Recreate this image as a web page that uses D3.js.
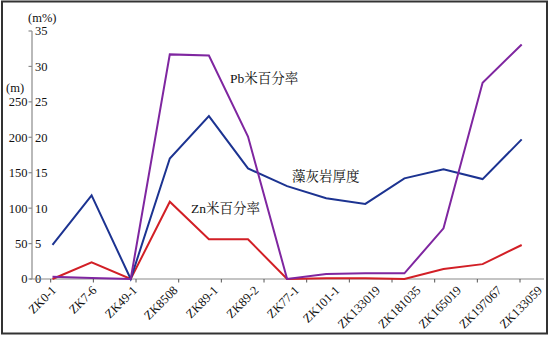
<!DOCTYPE html>
<html>
<head>
<meta charset="utf-8">
<script src="https://cdn.jsdelivr.net/npm/d3@7"></script>
<style>
  body { margin: 0; background: #fff; }
  svg { display: block; }
  text { fill: #111; }
</style>
</head>
<body>
<svg id="chart" width="552" height="343"></svg>
<script>
// drill holes
const holes = ["ZK0-1", "ZK7-6", "ZK49-1", "ZK8508", "ZK89-1", "ZK89-2", "ZK77-1",
  "ZK101-1", "ZK133019", "ZK181035", "ZK165019", "ZK197067", "ZK133059"];

// 藻灰岩厚度 (m)
const thickness = [48, 118, 0, 170, 230, 156, 131, 114, 106, 142, 155, 141, 197];
// Pb米百分率 (m%)
const pbRate = [0.3, 0.15, 0, 31.7, 31.55, 20.1, 0, 0.7, 0.8, 0.8, 7.15, 27.7, 33.1];
// Zn米百分率 (m%)
const znRate = [0, 2.35, 0, 10.9, 5.6, 5.6, 0, 0.1, 0.1, 0, 1.4, 2.1, 4.8];

const mTicks = [0, 50, 100, 150, 200, 250];
const pctTicks = [0, 5, 10, 15, 20, 25, 30, 35];

const svg = d3.select("#chart");
const serif = "Times New Roman, Times, Liberation Serif, Nimbus Roman, Noto Serif, FreeSerif, DejaVu Serif, serif";
const cjk = "Times New Roman, Times, Liberation Serif, Noto Serif CJK SC, Noto Sans CJK SC, serif";
const fs = 12.5;

// frame
svg.append("rect")
  .attr("x", 2).attr("y", 1.5)
  .attr("width", 545).attr("height", 332)
  .attr("fill", "none")
  .attr("stroke", "#333")
  .attr("stroke-width", 2);

const x = d3.scalePoint().domain(holes).range([52.5, 521.7]);
// labels and ticks sit a little off the data points in the original
const xLabel = d3.scalePoint().domain(holes).range([57, 543]);
const xTick = d3.scalePoint().domain(holes.slice(0, 12)).range([50.7, 520]);

const yPct = d3.scaleLinear().domain([0, 35]).range([279, 31]);
const yM = d3.scaleLinear().domain([0, 350]).range([279, 31]);

const axisColor = "#8a8a8a";

// y axis
const yAxis = svg.append("g");
yAxis.append("line")
  .attr("x1", 32).attr("x2", 32)
  .attr("y1", yPct(35)).attr("y2", yPct(0))
  .attr("stroke", axisColor).attr("stroke-width", 1.2);

yAxis.selectAll(".pt").data(pctTicks).enter().append("line")
  .attr("x1", 28.5).attr("x2", 32)
  .attr("y1", d => yPct(d)).attr("y2", d => yPct(d))
  .attr("stroke", axisColor).attr("stroke-width", 1.2);

yAxis.selectAll(".pl").data(pctTicks).enter().append("text")
  .attr("x", 35).attr("y", d => yPct(d))
  .attr("dy", "0.35em")
  .attr("font-family", serif)
  .attr("font-size", fs)
  .text(d => d);

yAxis.selectAll(".ml").data(mTicks).enter().append("text")
  .attr("x", 27.5).attr("y", d => yM(d))
  .attr("dy", "0.35em")
  .attr("text-anchor", "end")
  .attr("font-family", serif)
  .attr("font-size", fs)
  .text(d => d);

svg.append("text").attr("x", 28).attr("y", 22)
  .attr("font-family", serif).attr("font-size", fs).text("(m%)");
svg.append("text").attr("x", 6).attr("y", 92)
  .attr("font-family", serif).attr("font-size", fs).text("(m)");

// x axis
svg.append("line")
  .attr("x1", 30).attr("x2", 544)
  .attr("y1", 279).attr("y2", 279)
  .attr("stroke", axisColor).attr("stroke-width", 1.2);

svg.selectAll(".xt").data(xTick.domain()).enter().append("line")
  .attr("x1", d => xTick(d)).attr("x2", d => xTick(d))
  .attr("y1", 279).attr("y2", 282.5)
  .attr("stroke", "#555").attr("stroke-width", 1);

svg.selectAll(".xl").data(holes).enter().append("text")
  .attr("transform", d => `translate(${xLabel(d)},${291}) rotate(-45)`)
  .attr("text-anchor", "end")
  .attr("font-family", serif)
  .attr("font-size", fs)
  .text(d => d);

// series
const lineM = d3.line().x((d, i) => x(holes[i])).y(d => yM(d));
const linePct = d3.line().x((d, i) => x(holes[i])).y(d => yPct(d));

svg.append("path").datum(znRate)
  .attr("d", linePct)
  .attr("fill", "none").attr("stroke", "#d21f26").attr("stroke-width", 2);

svg.append("path").datum(thickness)
  .attr("d", lineM)
  .attr("fill", "none").attr("stroke", "#1c3391").attr("stroke-width", 2);

svg.append("path").datum(pbRate)
  .attr("d", linePct)
  .attr("fill", "none").attr("stroke", "#7f26a0").attr("stroke-width", 2);

// series notes
svg.append("text").attr("x", 230).attr("y", 83)
  .attr("font-family", cjk).attr("font-size", 13.5).text("Pb米百分率");
svg.append("text").attr("x", 292).attr("y", 181)
  .attr("font-family", cjk).attr("font-size", 13.5).text("藻灰岩厚度");
svg.append("text").attr("x", 191).attr("y", 213)
  .attr("font-family", cjk).attr("font-size", 13.5).text("Zn米百分率");
</script>
</body>
</html>
